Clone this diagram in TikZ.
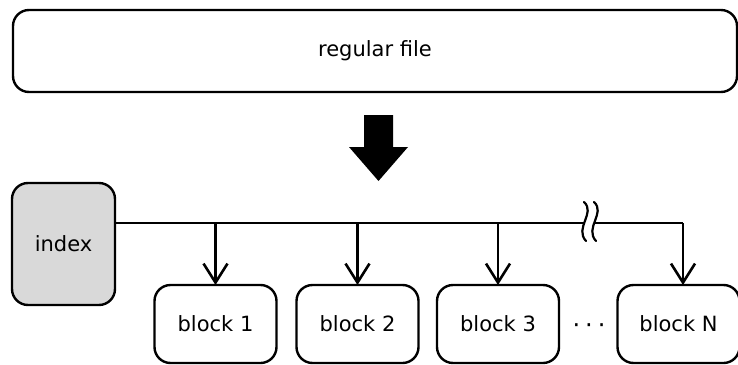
\documentclass[tikz,border=0pt]{standalone}
\usepackage{fontspec}
\setmainfont{DejaVu Sans}
\usetikzlibrary{arrows.meta}
\begin{document}
\begin{tikzpicture}[x=1pt,y=-1pt,
  box/.style={draw, line width=2.4pt, rounded corners=16pt, inner sep=0pt, outer sep=0pt, font=\fontsize{21}{25}\selectfont},
  blockbox/.style={box, minimum width=122pt, minimum height=78pt},
  conn/.style={line width=2.6pt},
  darr/.style={conn, -{Straight Barb[length=19pt,width=24pt]}}]
\useasboundingbox (0,0) rectangle (738,364);
\node[box, minimum width=724pt, minimum height=82pt] (file) at (375,51) {regular file};
\node[box, fill=black!15, minimum width=103pt, minimum height=122pt] (index) at (63.5,244) {index};
\node[blockbox] (b1) at (215.5,324) {block 1};
\node[blockbox] (b2) at (357.5,324) {block 2};
\node[blockbox] (b3) at (498,324) {block 3};
\node[blockbox] (bN) at (678.5,324) {block N};
\node[font=\fontsize{24}{28}\selectfont, inner sep=0pt, anchor=base] (dots) at (589,333) {·\kern5pt·\kern5pt·};
% big arrow
\fill (364,115) -- (393,115) -- (393,147) -- (408,147) -- (378.5,181) -- (349,147) -- (364,147) -- cycle;
% bus
\coordinate (busend) at (683,223);
\coordinate (brkL) at (585,223);
\coordinate (brkR) at (595,223);
\draw[conn] (index.east |- busend) -- (brkL);
\draw[conn] (brkR) -- (busend);
\draw[line width=2.2pt, line cap=round] (584,202) .. controls (596,213) and (574,228) .. (586,241);
\draw[line width=2.2pt, line cap=round] (594,202) .. controls (606,213) and (584,228) .. (596,241);
\draw[darr] (b1.north |- busend) -- (b1.north);
\draw[darr] (b2.north |- busend) -- (b2.north);
\draw[darr] (b3.north |- busend) -- (b3.north);
\draw[darr] (busend) -- (busend |- bN.north);
\end{tikzpicture}
\end{document}
